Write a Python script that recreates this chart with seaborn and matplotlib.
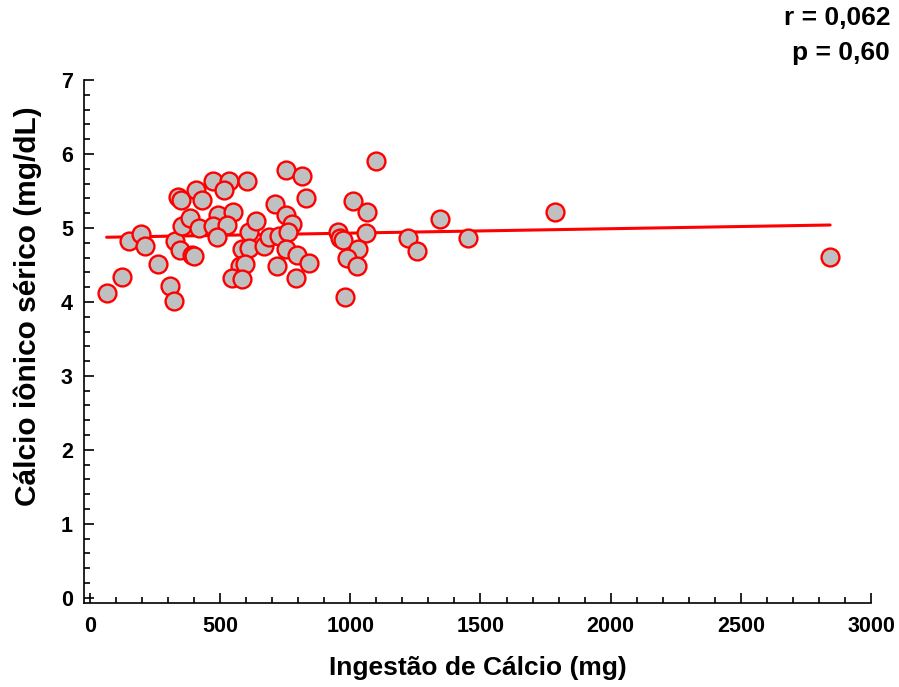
import matplotlib
matplotlib.use("Agg")
import matplotlib.pyplot as plt
import seaborn as sns
import pandas as pd
from matplotlib.ticker import MultipleLocator

ingestao = [64, 122, 151, 195, 211, 262, 307, 323, 327, 339, 350, 354, 346, 384, 391, 399,
            407, 418, 431, 471, 533, 516, 602, 490, 548, 474, 527, 489, 610, 638, 583, 610,
            578, 597, 544, 582, 668, 686, 727, 711, 752, 775, 762, 753, 794, 720, 793, 842,
            754, 813, 831, 1099, 1009, 1065, 954, 962, 972, 1060, 1031, 988, 1025, 980,
            1222, 1256, 1345, 1452, 1786, 2843]
calcio = [4.12, 4.34, 4.82, 4.92, 4.76, 4.51, 4.22, 4.01, 4.82, 5.42, 5.38, 5.02, 4.70, 5.13, 4.64, 4.62,
          5.51, 5.00, 5.38, 5.64, 5.63, 5.51, 5.64, 5.18, 5.22, 5.02, 5.04, 4.88, 4.94, 5.09, 4.72, 4.73,
          4.48, 4.51, 4.32, 4.31, 4.76, 4.88, 4.89, 5.32, 5.18, 5.05, 4.94, 4.72, 4.63, 4.49, 4.32, 4.52,
          5.78, 5.70, 5.40, 5.91, 5.36, 5.22, 4.94, 4.86, 4.84, 4.93, 4.71, 4.60, 4.48, 4.06,
          4.86, 4.69, 5.12, 4.86, 5.22, 4.61]
stats_lines = ["r = 0,062", "p = 0,60"]
x_label = "Ingestão de Cálcio (mg)"
y_label = "Cálcio iônico sérico (mg/dL)"

df = pd.DataFrame({"x": ingestao, "y": calcio})

sns.set_theme(style="ticks", rc={"text.color": "black", "axes.labelcolor": "black",
                                  "xtick.color": "black", "ytick.color": "black",
                                  "axes.edgecolor": "black"})
plt.rcParams["font.family"] = ["Liberation Sans", "DejaVu Sans"]
plt.rcParams["font.weight"] = "bold"

fig = plt.figure(figsize=(8.99, 6.87), dpi=100)
ax = fig.add_axes([84/899, 1-603/687, (871-84)/899, (603-80)/687])

sns.regplot(data=df, x="x", y="y", ax=ax, ci=None,
            scatter_kws=dict(s=165, facecolor="#c0c0c0", edgecolor="#ff0000", linewidths=1.7, alpha=1, zorder=3),
            line_kws=dict(color="#ff0000", lw=2.2, zorder=2))

ax.set_xlim(-23, 3000)
ax.set_ylim(-0.07, 7)
ax.xaxis.set_major_locator(MultipleLocator(500))
ax.xaxis.set_minor_locator(MultipleLocator(100))
ax.yaxis.set_major_locator(MultipleLocator(1))
ax.yaxis.set_minor_locator(MultipleLocator(0.2))
ax.tick_params(which="both", direction="in", color="black", width=1.2)
ax.tick_params(which="major", length=7, labelsize=15.5)
ax.tick_params(which="minor", length=4)
ax.tick_params(axis="x", pad=9)
ax.tick_params(axis="y", pad=8)
for lab in ax.get_xticklabels() + ax.get_yticklabels():
    lab.set_fontweight("bold")
for s in ["top", "right"]:
    ax.spines[s].set_visible(False)
for s in ["left", "bottom"]:
    ax.spines[s].set_linewidth(1.2)
    ax.spines[s].set_color("black")

ax.set_xlabel(x_label, fontsize=19, fontweight="bold", labelpad=14)
ax.set_ylabel(y_label, fontsize=21.5, fontweight="bold")
ax.yaxis.set_label_coords(-0.054, 0.568)

fig.text(890/899, 1-18/687, stats_lines[0], ha="right", va="center", fontsize=19, fontweight="bold")
fig.text(890/899, 1-53/687, stats_lines[1], ha="right", va="center", fontsize=19, fontweight="bold")

fig.savefig("out.png", dpi=100, facecolor="white")
